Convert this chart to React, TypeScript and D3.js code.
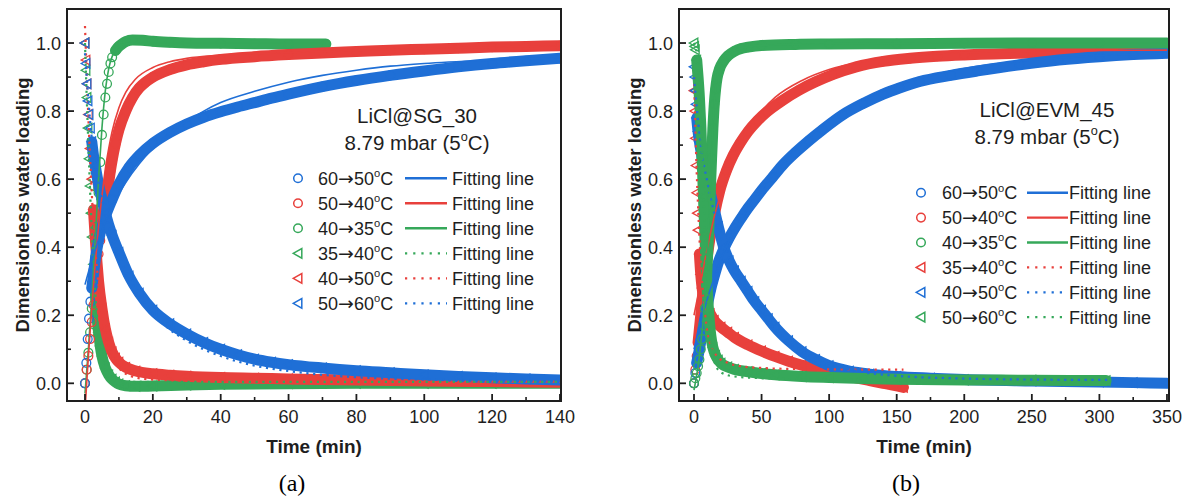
import * as d3 from "d3";

type Pt = [number, number];

// ---- (a) LiCl@SG_30, measured points [time min, loading] ----
const sgAds6050: Pt[] = [[0,0.0],[0.4,0.06],[0.8,0.13],[1.2,0.19],[1.6,0.24],[2,0.28],[2.5,0.32],[3,0.36],[4,0.42],[5,0.46],[6,0.49],[8,0.54],[10,0.585],[13,0.635],[16,0.67],[20,0.705],[25,0.737],[30,0.762],[35,0.782],[40,0.798],[45,0.812],[50,0.825],[55,0.838],[60,0.85],[70,0.872],[80,0.89],[90,0.905],[100,0.918],[110,0.93],[120,0.94],[130,0.948],[140,0.955]];
const sgAds5040: Pt[] = [[0,0.0],[0.5,0.04],[1,0.08],[1.5,0.13],[2,0.18],[2.5,0.23],[3,0.28],[3.5,0.33],[4,0.38],[4.5,0.42],[5,0.46],[5.5,0.49],[6,0.52],[6.5,0.555],[7,0.59],[7.5,0.625],[8,0.655],[9,0.705],[10,0.745],[12,0.8],[14,0.84],[16,0.868],[18,0.886],[20,0.9],[25,0.922],[30,0.936],[35,0.945],[40,0.952],[50,0.96],[60,0.966],[70,0.971],[80,0.975],[90,0.979],[100,0.982],[110,0.985],[120,0.988],[130,0.99],[140,0.992]];
const sgAds4035: Pt[] = [[0,0.0],[0.5,0.04],[1,0.09],[1.5,0.15],[2,0.22],[2.5,0.29],[3,0.37],[3.5,0.46],[4,0.56],[4.5,0.65],[5,0.73],[5.5,0.79],[6,0.84],[6.5,0.88],[7,0.915],[7.5,0.94],[8,0.958],[9,0.978],[10,0.99],[11,0.998],[12,1.004],[14,1.009],[17,1.008],[20,1.005],[25,1.002],[30,1.0],[40,0.999],[50,0.998],[60,0.997],[71,0.997]];
const sgDes3540: Pt[] = [[0,1.0],[0.3,0.92],[0.6,0.84],[0.9,0.75],[1.2,0.66],[1.5,0.58],[1.8,0.5],[2.1,0.43],[2.5,0.35],[3,0.27],[3.5,0.2],[4,0.15],[4.5,0.11],[5,0.08],[6,0.045],[7,0.025],[8,0.012],[9,0.004],[10,-0.002],[12,-0.007],[15,-0.009],[20,-0.008],[30,-0.005],[40,-0.003],[60,-0.001],[80,0.0],[100,0.0],[120,0.0],[140,0.0]];
const sgDes4050: Pt[] = [[0,1.0],[0.3,0.95],[0.6,0.88],[1,0.79],[1.5,0.69],[2,0.6],[2.5,0.51],[3,0.43],[3.5,0.36],[4,0.3],[5,0.22],[6,0.16],[7,0.12],[8,0.092],[9,0.074],[10,0.062],[12,0.047],[15,0.036],[20,0.028],[25,0.024],[30,0.021],[40,0.017],[50,0.015],[60,0.013],[70,0.011],[80,0.01],[100,0.007],[120,0.005],[140,0.003]];
const sgDes5060: Pt[] = [[0,1.0],[0.3,0.94],[0.6,0.88],[0.9,0.83],[1.2,0.79],[1.6,0.75],[2,0.71],[2.5,0.67],[3,0.64],[4,0.585],[5,0.54],[6,0.5],[8,0.435],[10,0.385],[13,0.315],[16,0.265],[20,0.215],[25,0.175],[30,0.145],[35,0.12],[40,0.1],[45,0.084],[50,0.071],[55,0.062],[60,0.055],[70,0.045],[80,0.037],[90,0.031],[100,0.025],[110,0.02],[120,0.016],[130,0.013],[140,0.01]];

// (a) fitted curves
const sgFit6050: Pt[] = [[0,0.29],[2,0.36],[5,0.45],[8,0.52],[12,0.59],[16,0.645],[20,0.69],[25,0.735],[30,0.77],[35,0.8],[40,0.825],[50,0.858],[60,0.885],[70,0.905],[80,0.92],[90,0.932],[100,0.94],[120,0.95],[140,0.957]];
const sgFit5040: Pt[] = [[0,-0.08],[1,0.08],[2,0.22],[3,0.35],[4,0.46],[5,0.55],[6,0.63],[7,0.69],[8,0.74],[10,0.81],[12,0.855],[15,0.895],[20,0.928],[25,0.945],[30,0.955],[40,0.964],[60,0.972],[80,0.978],[100,0.984],[120,0.988],[140,0.992]];
const sgFit4035: Pt[] = [[0,-0.03],[1,0.1],[2,0.25],[3,0.42],[4,0.6],[5,0.75],[6,0.86],[7,0.925],[8,0.96],[10,0.99],[12,0.998],[16,1.0],[30,1.0],[71,1.0]];
const sgFit3540: Pt[] = [[0,1.0],[1,0.7],[2,0.45],[3,0.27],[4,0.15],[5,0.085],[6,0.045],[8,0.014],[10,0.006],[15,0.004],[140,0.004]];
const sgFit4050: Pt[] = [[0,1.05],[1,0.78],[2,0.56],[3,0.4],[4,0.29],[5,0.21],[6,0.15],[7,0.11],[8,0.08],[10,0.045],[12,0.028],[15,0.017],[20,0.011],[30,0.008],[60,0.006],[140,0.005]];
const sgFit5060: Pt[] = [[0,0.97],[2,0.72],[4,0.59],[6,0.5],[10,0.375],[15,0.275],[20,0.205],[25,0.158],[30,0.125],[40,0.08],[50,0.052],[60,0.036],[70,0.025],[80,0.018],[100,0.011],[120,0.008],[140,0.006]];

// ---- (b) LiCl@EVM_45 ----
const evAds6050: Pt[] = [[0,0.0],[1,0.03],[2,0.06],[4,0.1],[6,0.145],[8,0.19],[10,0.232],[12,0.27],[15,0.315],[18,0.355],[22,0.395],[26,0.427],[30,0.455],[35,0.486],[40,0.515],[45,0.541],[50,0.567],[58,0.605],[66,0.643],[75,0.678],[85,0.713],[95,0.745],[110,0.789],[125,0.822],[140,0.85],[152,0.868],[167,0.887],[190,0.905],[210,0.918],[241,0.936],[270,0.95],[300,0.96],[325,0.966],[350,0.97]];
const evAds5040: Pt[] = [[0,0.0],[1,0.04],[2,0.08],[3,0.12],[4,0.16],[5,0.2],[6,0.24],[7,0.28],[8,0.315],[9.4,0.36],[12,0.43],[15,0.495],[19,0.565],[24,0.625],[29,0.67],[34,0.705],[40,0.74],[47,0.772],[54,0.798],[65,0.83],[78,0.862],[90,0.886],[103,0.908],[120,0.93],[140,0.946],[160,0.955],[180,0.961],[200,0.965],[250,0.971],[300,0.975],[350,0.978]];
const evAds4035: Pt[] = [[0,0.0],[1,0.015],[2,0.03],[3,0.05],[4,0.07],[5,0.1],[6,0.13],[7,0.17],[8,0.22],[9,0.29],[10,0.37],[11,0.46],[12,0.56],[13,0.66],[14,0.75],[15,0.82],[16,0.865],[17,0.895],[19,0.925],[22,0.948],[25,0.962],[30,0.976],[35,0.984],[40,0.988],[50,0.993],[75,0.996],[100,0.997],[150,0.998],[200,0.999],[250,1.0],[300,1.0],[350,1.0]];
const evDes3540: Pt[] = [[0,0.86],[0.5,0.8],[1,0.72],[1.5,0.64],[2,0.56],[2.5,0.5],[3,0.45],[4,0.38],[5,0.32],[6,0.28],[7,0.255],[8,0.24],[10,0.22],[12,0.205],[15,0.185],[20,0.165],[25,0.15],[30,0.135],[40,0.113],[50,0.095],[60,0.079],[70,0.065],[80,0.053],[90,0.043],[100,0.034],[110,0.025],[120,0.016],[130,0.008],[140,0.0],[148,-0.006],[155,-0.012]];
const evDes4050: Pt[] = [[0,0.93],[0.5,0.9],[1,0.86],[1.5,0.82],[2,0.78],[3,0.74],[4,0.71],[6,0.665],[8,0.625],[10,0.59],[12,0.56],[15,0.51],[18,0.46],[22,0.4],[26,0.36],[30,0.33],[35,0.3],[40,0.27],[45,0.24],[50,0.215],[55,0.19],[60,0.165],[70,0.125],[80,0.093],[90,0.07],[100,0.052],[115,0.036],[130,0.027],[150,0.02],[175,0.015],[200,0.011],[250,0.007],[300,0.004],[325,0.002],[350,0.0]];
const evDes5060: Pt[] = [[0,1.0],[0.5,0.99],[1,0.98],[2,0.95],[3,0.9],[4,0.84],[5,0.76],[6,0.66],[7,0.55],[8,0.44],[9,0.34],[10,0.26],[11,0.2],[12,0.155],[13,0.125],[14,0.105],[16,0.082],[18,0.068],[20,0.059],[25,0.048],[30,0.041],[40,0.034],[50,0.029],[60,0.025],[80,0.02],[100,0.017],[125,0.014],[150,0.012],[200,0.01],[250,0.009],[305,0.008]];

const evFit6050: Pt[] = [[0,0.1],[5,0.18],[10,0.25],[15,0.31],[20,0.365],[30,0.45],[40,0.515],[50,0.57],[60,0.62],[75,0.685],[100,0.775],[125,0.832],[150,0.875],[175,0.905],[200,0.925],[250,0.95],[300,0.963],[350,0.97]];
const evFit5040: Pt[] = [[0,0.2],[5,0.3],[10,0.4],[15,0.49],[20,0.56],[30,0.67],[40,0.75],[50,0.8],[60,0.84],[80,0.89],[100,0.922],[125,0.945],[150,0.96],[200,0.972],[250,0.976],[300,0.978],[350,0.979]];
const evFit4035: Pt[] = [[0,-0.02],[4,0.08],[8,0.25],[10,0.4],[12,0.58],[14,0.76],[16,0.87],[18,0.92],[22,0.955],[30,0.978],[50,0.993],[100,0.998],[200,1.0],[350,1.0]];
const evFit3540: Pt[] = [[0,0.9],[1,0.75],[2,0.62],[3,0.52],[4,0.43],[6,0.3],[8,0.21],[10,0.15],[13,0.105],[17,0.08],[25,0.06],[35,0.05],[50,0.045],[75,0.042],[100,0.041],[155,0.04]];
const evFit4050: Pt[] = [[0,0.9],[5,0.7],[10,0.59],[15,0.5],[20,0.43],[30,0.335],[40,0.265],[50,0.205],[60,0.16],[80,0.095],[100,0.058],[125,0.033],[150,0.022],[200,0.014],[250,0.011],[300,0.01],[350,0.01]];
const evFit5060: Pt[] = [[0,1.0],[2,0.97],[4,0.86],[6,0.68],[8,0.45],[10,0.26],[12,0.14],[15,0.065],[20,0.032],[30,0.02],[50,0.015],[100,0.011],[200,0.008],[305,0.006]];

// ticks and labels
const yMajor = [0, 0.2, 0.4, 0.6, 0.8, 1.0];
const yMinor = [0.1, 0.3, 0.5, 0.7, 0.9];
const xMajorA = [0, 20, 40, 60, 80, 100, 120, 140];
const xMinorA = [10, 30, 50, 70, 90, 110, 130];
const xMajorB = [0, 50, 100, 150, 200, 250, 300, 350];
const xMinorB = [25, 75, 125, 175, 225, 275, 325];
const labelsA = ["60→50°C", "50→40°C", "40→35°C", "35→40°C", "40→50°C", "50→60°C"];
const labelsB = ["60→50°C", "50→40°C", "40→35°C", "35→40°C", "40→50°C", "50→60°C"];

const BLUE = "#1f6fd6";
const RED = "#e8403c";
const GREEN = "#36a85a";
const INK = "#1e1e1e";
const FONT = "'Liberation Sans', Arial, sans-serif";

const TOP = 9;
const BOTTOM = 401;

type Series = { label: string; color: string; marker: "o" | "tri"; data: Pt[]; fit: Pt[]; dotted: boolean; bandFrom: number };

const seriesA: Series[] = [
  { label: labelsA[0], color: BLUE, marker: "o", data: sgAds6050, fit: sgFit6050, dotted: false, bandFrom: 2 },
  { label: labelsA[1], color: RED, marker: "o", data: sgAds5040, fit: sgFit5040, dotted: false, bandFrom: 5 },
  { label: labelsA[2], color: GREEN, marker: "o", data: sgAds4035, fit: sgFit4035, dotted: false, bandFrom: 9 },
  { label: labelsA[3], color: GREEN, marker: "tri", data: sgDes3540, fit: sgFit3540, dotted: true, bandFrom: 3 },
  { label: labelsA[4], color: RED, marker: "tri", data: sgDes4050, fit: sgFit4050, dotted: true, bandFrom: 2.5 },
  { label: labelsA[5], color: BLUE, marker: "tri", data: sgDes5060, fit: sgFit5060, dotted: true, bandFrom: 2 },
];
const seriesB: Series[] = [
  { label: labelsB[0], color: BLUE, marker: "o", data: evAds6050, fit: evFit6050, dotted: false, bandFrom: 2 },
  { label: labelsB[1], color: RED, marker: "o", data: evAds5040, fit: evFit5040, dotted: false, bandFrom: 3 },
  { label: labelsB[2], color: GREEN, marker: "o", data: evAds4035, fit: evFit4035, dotted: false, bandFrom: 9 },
  { label: labelsB[3], color: RED, marker: "tri", data: evDes3540, fit: evFit3540, dotted: true, bandFrom: 4 },
  { label: labelsB[4], color: BLUE, marker: "tri", data: evDes4050, fit: evFit4050, dotted: true, bandFrom: 2 },
  { label: labelsB[5], color: GREEN, marker: "tri", data: evDes5060, fit: evFit5060, dotted: true, bandFrom: 2 },
];

const TRI = "M-4.8,0 L3.8,-4.8 L3.8,4.8 Z";

// text with a raised "o" for degrees and a wide arrow glyph
function Deg({ x, y, text, size, anchor = "start" }: { x: number; y: number; text: string; size: number; anchor?: string }) {
  const [pre, post] = text.split("°");
  const parts = pre.split("→");
  return (
    <text x={x} y={y} fontSize={size} textAnchor={anchor} fill={INK} fontFamily={FONT}>
      {parts[0]}
      {parts.length > 1 && (
        <>
          <tspan fontFamily="'DejaVu Sans', sans-serif" fontSize={size * 1.05}>→</tspan>
          {parts[1]}
        </>
      )}
      <tspan fontSize={size * 0.62} dy={-size * 0.42}>o</tspan>
      <tspan dy={size * 0.42}>{post}</tspan>
    </text>
  );
}

type PanelCfg = {
  id: string;
  left: number;
  right: number;
  xDomain: [number, number];
  xMajor: number[];
  xMinor: number[];
  series: Series[];
  order: number[];
  title: string;
  titleX: number;
  titleY: number;
  legend: { mx: number; tx: number; l1: number; l2: number; fx: number; y0: number; dy: number };
  caption: string;
  captionX: number;
};

function Panel({ c }: { c: PanelCfg }) {
  const x = d3.scaleLinear().domain(c.xDomain).range([c.left, c.right]);
  const y = d3.scaleLinear().domain([-0.052, 1.1]).range([BOTTOM, TOP]);
  const line = d3.line<Pt>().x((d) => x(d[0])).y((d) => y(d[1])).curve(d3.curveMonotoneX);
  const mid = (c.left + c.right) / 2;
  const L = c.legend;

  return (
    <g>
      <defs>
        <clipPath id={c.id}>
          <rect x={c.left} y={TOP} width={c.right - c.left} height={BOTTOM - TOP} />
        </clipPath>
      </defs>
      <g clipPath={`url(#${c.id})`}>
        {c.order.map((i) => {
          const s = c.series[i];
          const band = s.data.filter((d) => d[0] >= s.bandFrom);
          return (
            <g key={i}>
              <path d={line(band) || ""} fill="none" stroke={s.color} strokeWidth={11} strokeLinecap="round" strokeLinejoin="round" />
              {s.data.map((d, k) =>
                s.marker === "o" ? (
                  <circle key={k} cx={x(d[0])} cy={y(d[1])} r={4.4} fill="none" stroke={s.color} strokeWidth={1.3} />
                ) : (
                  <path key={k} d={TRI} transform={`translate(${x(d[0])},${y(d[1])})`} fill="none" stroke={s.color} strokeWidth={1.3} />
                )
              )}
            </g>
          );
        })}
        {c.order.map((i) => {
          const s = c.series[i];
          return (
            <path
              key={"f" + i}
              d={line(s.fit) || ""}
              fill="none"
              stroke={s.color}
              strokeWidth={s.dotted ? 2.2 : 1.6}
              strokeDasharray={s.dotted ? "2.2 4.6" : undefined}
            />
          );
        })}
      </g>

      {/* frame and ticks */}
      <rect x={c.left} y={TOP} width={c.right - c.left} height={BOTTOM - TOP} fill="none" stroke={INK} strokeWidth={2} />
      {c.xMajor.map((t) => (
        <g key={"xm" + t}>
          <line x1={x(t)} x2={x(t)} y1={BOTTOM} y2={BOTTOM - 7} stroke={INK} strokeWidth={1.8} />
          <text x={x(t)} y={423} textAnchor="middle" fontSize={18} fontFamily={FONT} fill={INK}>{t}</text>
        </g>
      ))}
      {c.xMinor.map((t) => (
        <line key={"xn" + t} x1={x(t)} x2={x(t)} y1={BOTTOM} y2={BOTTOM - 4} stroke={INK} strokeWidth={1.6} />
      ))}
      {yMajor.map((v) => (
        <g key={"ym" + v}>
          <line x1={c.left} x2={c.left + 7} y1={y(v)} y2={y(v)} stroke={INK} strokeWidth={1.8} />
          <text x={c.left - 6} y={y(v) + 6.5} textAnchor="end" fontSize={18} fontFamily={FONT} fill={INK}>{v.toFixed(1)}</text>
        </g>
      ))}
      {yMinor.map((v) => (
        <line key={"yn" + v} x1={c.left} x2={c.left + 4} y1={y(v)} y2={y(v)} stroke={INK} strokeWidth={1.6} />
      ))}

      <text x={mid} y={453} textAnchor="middle" fontSize={19} fontWeight="bold" fontFamily={FONT} fill={INK}>Time (min)</text>
      <text transform={`translate(${c.left - 38},${(TOP + BOTTOM) / 2}) rotate(-90)`} textAnchor="middle" fontSize={18.5} fontWeight="bold" fontFamily={FONT} fill={INK}>
        Dimensionless water loading
      </text>

      {/* annotation */}
      <text x={c.titleX} y={c.titleY} textAnchor="middle" fontSize={20.5} fontFamily={FONT} fill={INK}>{c.title}</text>
      <Deg x={c.titleX} y={c.titleY + 27} text="8.79 mbar (5°C)" size={20.5} anchor="middle" />

      {/* legend */}
      {c.series.map((s, i) => {
        const cy = L.y0 + i * L.dy;
        return (
          <g key={"lg" + i}>
            {s.marker === "o" ? (
              <circle cx={L.mx} cy={cy} r={4.3} fill="none" stroke={s.color} strokeWidth={1.5} />
            ) : (
              <path d={TRI} transform={`translate(${L.mx},${cy})`} fill="none" stroke={s.color} strokeWidth={1.5} />
            )}
            <Deg x={L.tx} y={cy + 6.5} text={s.label} size={18} />
            <line x1={L.l1} x2={L.l2} y1={cy} y2={cy} stroke={s.color} strokeWidth={s.dotted ? 2.2 : 2.4} strokeDasharray={s.dotted ? "2.2 6" : undefined} />
            <text x={L.fx} y={cy + 6.5} fontSize={18} fontFamily={FONT} fill={INK}>Fitting line</text>
          </g>
        );
      })}

      <text x={c.captionX} y={491} textAnchor="middle" fontSize={24} fontFamily="'Liberation Serif', 'Times New Roman', serif" fill="#000">{c.caption}</text>
    </g>
  );
}

const panelA: PanelCfg = {
  id: "clipA",
  left: 67,
  right: 561,
  xDomain: [-5.3, 140.3],
  xMajor: xMajorA,
  xMinor: xMinorA,
  series: seriesA,
  order: [3, 4, 2, 1, 0, 5],
  title: "LiCl@SG_30",
  titleX: 417,
  titleY: 122.5,
  legend: { mx: 298, tx: 318, l1: 405, l2: 447, fx: 452, y0: 178.3, dy: 25 },
  caption: "(a)",
  captionX: 292,
};

const panelB: PanelCfg = {
  id: "clipB",
  left: 679,
  right: 1169,
  xDomain: [-11.1, 351.5],
  xMajor: xMajorB,
  xMinor: xMinorB,
  series: seriesB,
  order: [3, 1, 0, 4, 2, 5],
  title: "LiCl@EVM_45",
  titleX: 1047,
  titleY: 116.7,
  legend: { mx: 921, tx: 942, l1: 1027, l2: 1068, fx: 1069, y0: 192.7, dy: 24.9 },
  caption: "(b)",
  captionX: 906,
};

export default function App() {
  return (
    <svg
      width={1188}
      height={500}
      viewBox="0 0 1188 500"
      style={{ position: "absolute", left: 0, top: 0, background: "#fff", display: "block" }}
    >
      <rect x={0} y={0} width={1188} height={500} fill="#fff" />
      <Panel c={panelA} />
      <Panel c={panelB} />
    </svg>
  );
}
